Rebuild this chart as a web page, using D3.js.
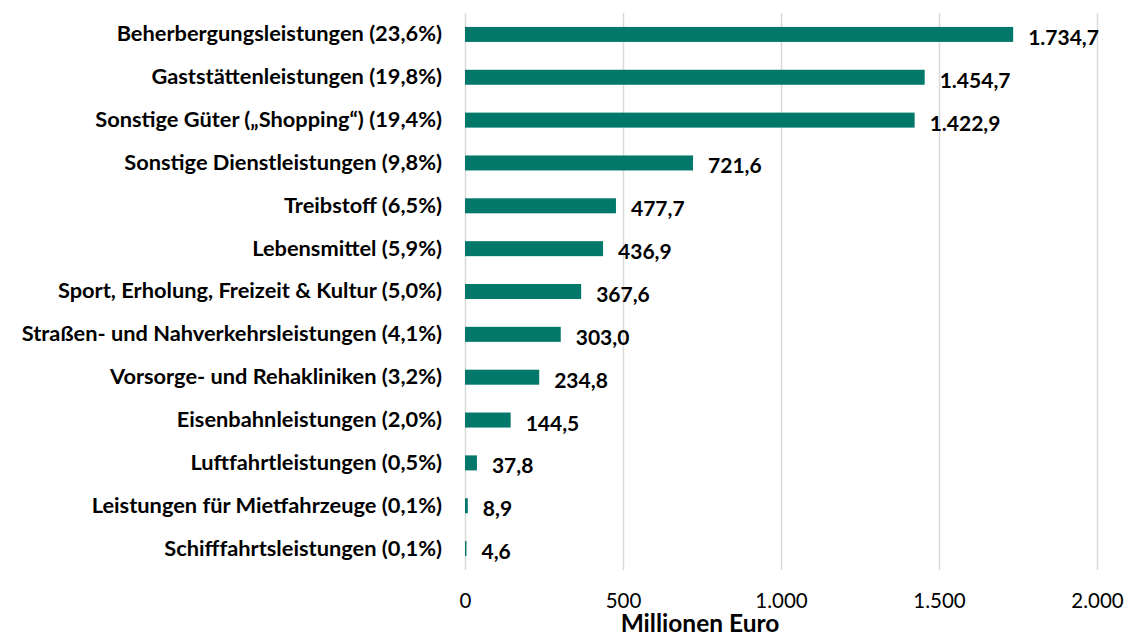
<!DOCTYPE html>
<html>
<head>
<meta charset="utf-8">
<script src="https://cdn.jsdelivr.net/npm/d3@7"></script>
<style>
  body { margin: 0; background: #fff; }
  text { font-family: Lato, "Open Sans", sans-serif; fill: #000; }
</style>
</head>
<body>
<div id="chart"></div>
<script>
// Ausgaben nach Kategorie, Millionen Euro

const categories = [
    'Beherbergungsleistungen (23,6%)',
    'Gaststättenleistungen (19,8%)',
    'Sonstige Güter (\u201EShopping\u201C) (19,4%)',
    'Sonstige Dienstleistungen (9,8%)',
    'Treibstoff (6,5%)',
    'Lebensmittel (5,9%)',
    'Sport, Erholung, Freizeit & Kultur (5,0%)',
    'Straßen- und Nahverkehrsleistungen (4,1%)',
    'Vorsorge- und Rehakliniken (3,2%)',
    'Eisenbahnleistungen (2,0%)',
    'Luftfahrtleistungen (0,5%)',
    'Leistungen für Mietfahrzeuge (0,1%)',
    'Schifffahrtsleistungen (0,1%)'
]
const values = [1734.7, 1454.7, 1422.9, 721.6, 477.7, 436.9, 367.6, 303.0, 234.8, 144.5, 37.8, 8.9, 4.6]
const xTicks = [0, 500, 1000, 1500, 2000]
const axisTitle = 'Millionen Euro'

let margin = {top: 13, right: 29, bottom: 69, left: 465},
    width = 1126 - margin.left - margin.right,
    height = 639 - margin.top - margin.bottom,
    barColor = '#02786a'

const de = d3.formatLocale({decimal: ',', thousands: '.', grouping: [3], currency: ['', ' €']})
const fmtValue = de.format(',.1f'),
      fmtTick = de.format(',.0f')

const data = categories.map((c, i) => ({cat: c, value: values[i]}))

var svg = d3.select('#chart').append('svg')
            .attr('width', 1126)
            .attr('height', 639)
            .append('g')
                .attr('transform', `translate(${margin.left}, ${margin.top})`)

let xScale = d3.scaleLinear()
                .domain([0, 2000])
                .range([0, width])
let yScale = d3.scaleBand()
                .domain(categories)
                .range([0, height])
                .paddingInner(0.65)
                .paddingOuter(0.325)

// gridlines
svg.append('g')
    .attr('class', 'grid')
    .call(d3.axisBottom(xScale).tickValues(xTicks).tickSize(height).tickFormat(''))
    .call(g => g.select('.domain').remove())
    .call(g => g.selectAll('line').attr('stroke', '#d9d9d9').attr('stroke-width', 1.5))

// bars
svg.selectAll('rect.bar')
    .data(data)
        .enter()
    .append('rect')
    .attr('class', 'bar')
    .attr('x', xScale(0))
    .attr('y', d => yScale(d.cat))
    .attr('width', d => Math.max(xScale(d.value) - xScale(0), 1))
    .attr('height', yScale.bandwidth())
    .attr('fill', barColor)

// value labels
svg.selectAll('text.value')
    .data(data)
        .enter()
    .append('text')
    .attr('class', 'value')
    .attr('x', d => xScale(d.value) + 15)
    .attr('y', d => yScale(d.cat) + yScale.bandwidth() / 2 + 2)
    .attr('dominant-baseline', 'central')
    .style('font-size', '21px')
    .style('font-weight', 'bold')
    .text(d => fmtValue(d.value))

// Y axis (categories)
svg.append('g')
    .call(d3.axisLeft(yScale).tickSize(0).tickPadding(23))
    .call(g => g.select('.domain').remove())
    .selectAll('text')
        .style('font-size', '21.8px')
        .style('font-weight', 'bold')
        .style('font-family', 'Lato, sans-serif')

// X axis
svg.append('g')
    .attr('transform', `translate(0, ${height})`)
    .call(d3.axisBottom(xScale).tickValues(xTicks).tickSize(0).tickPadding(23).tickFormat(fmtTick))
    .call(g => g.select('.domain').remove())
    .selectAll('text')
        .style('font-size', '20.5px')
        .style('font-family', 'Lato, sans-serif')

// axis title sits under the whole chart, not just the plot
svg.append('text')
    .attr('x', 700 - margin.left)
    .attr('y', height + 62)
    .style('text-anchor', 'middle')
    .style('font-size', '24.5px')
    .style('font-weight', 'bold')
    .text(axisTitle)
</script>
</body>
</html>
